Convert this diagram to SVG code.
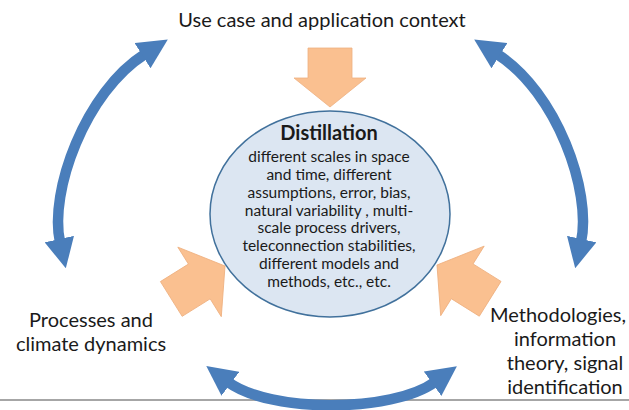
<svg xmlns="http://www.w3.org/2000/svg" width="629" height="410" viewBox="0 0 629 410">
<style>
.lbl{font-family:Lato,"Open Sans","Liberation Sans",sans-serif;font-size:20px;fill:#1a1a1a;text-anchor:middle}
.body{font-family:Lato,"Open Sans","Liberation Sans",sans-serif;font-size:15.5px;fill:#1a1a1a;text-anchor:middle}
.ttl{font-family:Lato,"Open Sans","Liberation Sans",sans-serif;font-size:20px;font-weight:bold;fill:#1a1a1a;text-anchor:middle}
.orange{fill:#fac090;stroke:#eeb080;stroke-width:0.8}
.arc{fill:none;stroke:#4a7ebb;stroke-width:10.5}
</style>
<defs>
<marker id="ah" viewBox="0 0 30 30" markerWidth="30" markerHeight="30" refX="3" refY="15" orient="auto-start-reverse" markerUnits="userSpaceOnUse">
<path d="M0,0 L30,15 L0,30 Z" fill="#4a7ebb"/>
</marker>
</defs>
<rect width="629" height="410" fill="#ffffff"/>
<line x1="0" y1="400" x2="629" y2="400" stroke="#a6a6a6" stroke-width="2"/>
<g id="connectors">
<path class="arc" d="M145,54 C85,92 49,192 60,242" marker-start="url(#ah)" marker-end="url(#ah)"/>
<path class="arc" d="M497,54 C557,92 592,192 581,242" marker-start="url(#ah)" marker-end="url(#ah)"/>
<path class="arc" d="M228,382 C270,413 392,413 435,382" marker-start="url(#ah)" marker-end="url(#ah)"/>
<path id="arrow-top" class="orange" transform="translate(330,107) rotate(90)" d="M0,0 L-29,-36 L-29,-22 L-59,-22 L-59,22 L-29,22 L-29,36 Z"/>
<path id="arrow-left" class="orange" transform="translate(225,266) rotate(-32)" d="M0,0 L-30,-41 L-30,-21 L-63,-21 L-63,20 L-30,20 L-30,41 Z"/>
<path id="arrow-right" class="orange" transform="translate(437,265) rotate(212)" d="M0,0 L-30,-41 L-30,-21 L-63,-21 L-63,20 L-30,20 L-30,41 Z"/>
</g>
<g id="distillation">
<ellipse cx="330" cy="214" rx="120" ry="103" fill="#dce6f2" stroke="#41719c" stroke-width="1.5"/>
<text class="ttl" x="329" y="140">Distillation</text>
<text class="body" x="329" y="162">different scales in space</text>
<text class="body" x="329" y="180">and time, different</text>
<text class="body" x="329" y="197.5">assumptions, error, bias,</text>
<text class="body" x="329" y="215.5">natural variability , multi-</text>
<text class="body" x="329" y="233">scale process drivers,</text>
<text class="body" x="329" y="251">teleconnection stabilities,</text>
<text class="body" x="329" y="269">different models and</text>
<text class="body" x="329" y="287">methods, etc., etc.</text>
</g>
<g id="use-case">
<text class="lbl" x="322" y="27">Use case and application context</text>
</g>
<g id="processes">
<text class="lbl" x="91" y="327">Processes and</text>
<text class="lbl" x="91" y="351">climate dynamics</text>
</g>
<g id="methodologies">
<text class="lbl" x="558" y="322">Methodologies,</text>
<text class="lbl" x="565" y="346">information</text>
<text class="lbl" x="565" y="370">theory, signal</text>
<text class="lbl" x="565" y="394">identification</text>
</g>
</svg>
